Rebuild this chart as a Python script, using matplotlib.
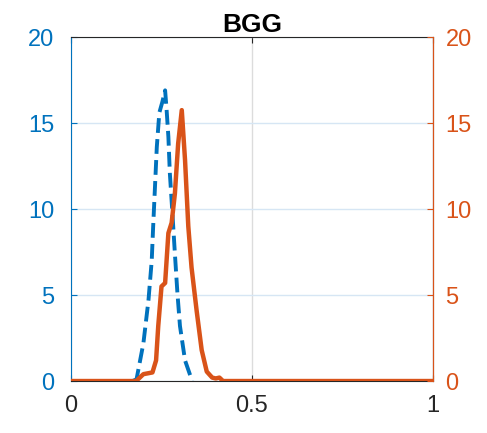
import matplotlib.pyplot as plt
import numpy as np

# dati
x_blu = [0.17, 0.181, 0.20, 0.214, 0.223, 0.227, 0.232, 0.237, 0.244, 0.252, 0.260,
         0.264, 0.269, 0.273, 0.280, 0.287, 0.294, 0.301, 0.315, 0.329, 0.335]
y_blu = [0.0, 0.1, 2.2, 4.7, 7.0, 9.0, 11.3, 13.6, 15.6, 16.2, 16.9,
         15.8, 14.2, 12.1, 9.8, 7.4, 5.1, 3.2, 1.2, 0.35, 0.0]

x_ara = [0.0, 0.18, 0.20, 0.225, 0.235, 0.241, 0.25, 0.26, 0.269, 0.278, 0.287,
         0.296, 0.306, 0.315, 0.324, 0.333, 0.347, 0.361, 0.375, 0.39, 0.40,
         0.41, 0.42, 0.5, 1.0]
y_ara = [0.0, 0.0, 0.4, 0.5, 1.2, 3.2, 5.5, 5.7, 8.6, 9.2, 10.9,
         13.8, 15.75, 12.85, 9.0, 6.6, 4.1, 1.8, 0.55, 0.2, 0.15,
         0.2, 0.0, 0.0, 0.0]

blu = '#0072BD'
arancio = '#D95319'
grigio = '#262626'

plt.rcParams['font.family'] = ['Liberation Sans', 'DejaVu Sans']

fig = plt.figure(figsize=(4.87, 4.33), dpi=100)
ax = fig.add_axes([0.1458, 0.120, 0.7433, 0.7945])
ax2 = ax.twinx()

ax.plot(x_blu, y_blu, color=blu, lw=2.8, ls=(0, (3.8, 1.6)))
ax2.plot(x_ara, y_ara, color=arancio, lw=3.2)

for a in (ax, ax2):
    a.set_xlim(0, 1)
    a.set_ylim(0, 20)
    a.set_yticks([0, 5, 10, 15, 20])

ax.set_xticks([0, 0.5, 1])
ax.set_xticklabels(['0', '0.5', '1'])
ax.xaxis.grid(True, color='#DCDCDC', lw=1)
ax.yaxis.grid(True, color='#D6E6F4', lw=1)
ax.set_axisbelow(True)

ax.tick_params(axis='x', direction='in', top=True, colors=grigio, labelsize=17,
               length=4, pad=10)
ax.tick_params(axis='y', direction='in', colors=blu, labelsize=17, length=4, pad=12)
ax2.tick_params(axis='y', direction='in', colors=arancio, labelsize=17, length=4, pad=9)

ax.spines['left'].set_color(blu)
ax.spines['top'].set_color(grigio)
ax.spines['bottom'].set_color(grigio)
ax2.spines['right'].set_color(arancio)
ax2.spines['left'].set_visible(False)
ax2.spines['top'].set_visible(False)
ax2.spines['bottom'].set_visible(False)

ax.set_title('BGG', fontsize=19, fontweight='bold', pad=3)

fig.savefig('out.png', dpi=100)
